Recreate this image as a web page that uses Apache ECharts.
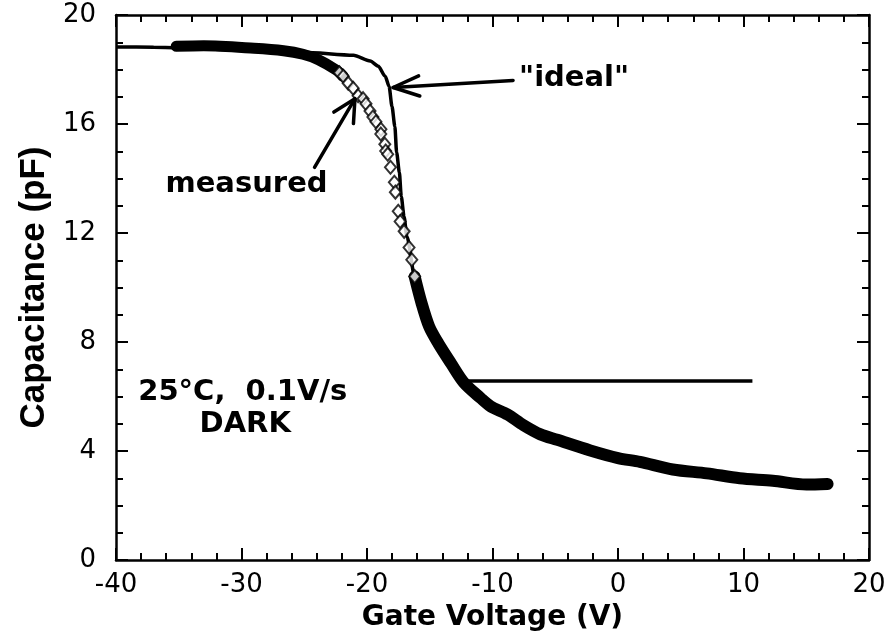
<!DOCTYPE html>
<html>
<head>
<meta charset="utf-8">
<script src="https://cdn.jsdelivr.net/npm/echarts@6/dist/echarts.min.js"></script>
<style>
  html, body { margin: 0; padding: 0; background: #fff; }
  #chart { width: 890px; height: 641px; }
</style>
</head>
<body>
<div id="chart"></div>
<script>
// Axis ranges and steps
const X_RANGE = [-40, 20];
const X_STEP = 10;
const Y_RANGE = [0, 20];
const Y_STEP = 4;

// Measured sweep: accumulation plateau (markers merge into a solid band)
const measPlateauV = [-35.2, -33.0, -29.0, -26.65, -25.1, -23.87, -22.45, -21.89];
const measPlateauC = [18.85, 18.87, 18.78, 18.69, 18.56, 18.36, 17.98, 17.75];

// Measured sweep: knee, where the individual open diamonds are visible
const measKneeV = [-22.2, -21.89, -21.5, -21.1, -20.71, -20.31, -20.08, -19.76, -19.53, -19.29, -18.89, -18.9,
                   -18.58, -18.51, -18.35, -18.13, -17.82, -17.74, -17.51, -17.36, -17.04, -16.65,
                   -16.43, -16.2];
const measKneeC = [17.88, 17.75, 17.5, 17.31, 17.04, 16.93, 16.74, 16.48, 16.26, 16.08, 15.81, 15.63,
                   15.26, 15.01, 14.89, 14.41, 13.86, 13.5, 12.8, 12.42, 12.06, 11.47,
                   11.02, 10.4];

// Measured sweep: depletion tail (dense band)
const measTailV = [-16.2, -15.66, -15.04, -14.33, -13.31, -12.28, -10.94, -10.15, -8.8, -7.54,
                   -6.18, -4.84, -2.21, 0.0, 1.75, 4.37, 7.08, 9.7, 12.33, 15.02, 16.7];
const measTailC = [10.4, 9.44, 8.56, 7.96, 7.22, 6.51, 5.94, 5.64, 5.34, 4.95,
                   4.61, 4.41, 4.02, 3.74, 3.6, 3.32, 3.18, 3.0, 2.91, 2.77, 2.79];

// "Ideal" curve, ending in the flat inversion capacitance
const idealV = [-40, -37.0, -25.06, -21.08, -19.74, -19.1, -18.55, -18.24, -18.01, -17.78,
                -17.64, -17.42, -17.27, -17.05, -16.82, -16.2, -15.66, -15.04, -14.33, -13.31,
                -12.12, 10.71];
const idealC = [18.83, 18.82, 18.63, 18.52, 18.31, 18.12, 17.75, 17.38, 16.65, 15.91,
                14.96, 14.22, 13.34, 12.61, 11.87, 10.4, 9.44, 8.56, 7.96, 7.22,
                6.57, 6.57];

// Text notes placed in data coordinates
const noteTexts = ['"ideal"', 'measured', '25°C,  0.1V/s', 'DARK'];
const noteV = [-3.5, -29.6, -29.9, -29.7];
const noteC = [17.66, 13.77, 6.15, 4.98];

// Pointer arrows (tail -> tip) in data coordinates
const arrowFromV = [-8.36, -24.18];
const arrowFromC = [17.6, 14.41];
const arrowToV = [-17.92, -20.96];
const arrowToC = [17.34, 16.93];

const zip = (xs, ys) => xs.map((x, i) => [x, ys[i]]);

const chart = echarts.init(document.getElementById('chart'), null, { renderer: 'canvas' });

const tickFont = { fontFamily: 'DejaVu Sans', fontSize: 26, color: '#000' };
const frameLine = { show: true, onZero: false, lineStyle: { color: '#000', width: 2.5 } };
const majorTick = { show: true, inside: true, length: 12, lineStyle: { color: '#000', width: 2 } };
const minorTickX = { show: true, splitNumber: 5, length: 7, lineStyle: { color: '#000', width: 2 } };
const minorTickY = { show: true, splitNumber: 4, length: 7, lineStyle: { color: '#000', width: 2 } };

chart.setOption({
  backgroundColor: '#fff',
  animation: false,
  grid: { left: 116, right: 21, top: 15, bottom: 81, outerBoundsMode: 'none' },
  xAxis: [
    {
      type: 'value', position: 'bottom',
      min: X_RANGE[0], max: X_RANGE[1], interval: X_STEP,
      name: 'Gate Voltage (V)', nameLocation: 'middle', nameGap: 44,
      nameTextStyle: { fontFamily: 'DejaVu Sans', fontWeight: 'bold', fontSize: 28, color: '#000' },
      axisLine: frameLine, axisTick: majorTick, minorTick: minorTickX,
      axisLabel: Object.assign({ margin: 12 }, tickFont),
      splitLine: { show: false }
    },
    {
      type: 'value', position: 'top',
      min: X_RANGE[0], max: X_RANGE[1], interval: X_STEP,
      axisLine: frameLine, axisTick: majorTick, minorTick: minorTickX,
      axisLabel: { show: false }, splitLine: { show: false }
    }
  ],
  yAxis: [
    {
      type: 'value', position: 'left',
      min: Y_RANGE[0], max: Y_RANGE[1], interval: Y_STEP,
      name: 'Capacitance (pF)', nameLocation: 'middle', nameGap: 64,
      nameTextStyle: { fontFamily: 'Liberation Sans', fontWeight: 'bold', fontSize: 35, color: '#000' },
      axisLine: frameLine, axisTick: majorTick, minorTick: minorTickY,
      axisLabel: Object.assign({ margin: 20 }, tickFont),
      splitLine: { show: false }
    },
    {
      type: 'value', position: 'right',
      min: Y_RANGE[0], max: Y_RANGE[1], interval: Y_STEP,
      axisLine: frameLine, axisTick: majorTick, minorTick: minorTickY,
      axisLabel: { show: false }, splitLine: { show: false }
    }
  ],
  series: [
    {
      name: 'ideal', type: 'line', z: 2,
      data: zip(idealV, idealC),
      showSymbol: false, smooth: 0.25, smoothMonotone: 'x',
      lineStyle: { color: '#000', width: 3.5 }
    },
    {
      name: 'measured plateau', type: 'line', z: 3,
      data: zip(measPlateauV, measPlateauC),
      showSymbol: false, smooth: 0.3,
      lineStyle: { color: '#000', width: 11, cap: 'round', join: 'round' }
    },
    {
      name: 'measured knee', type: 'scatter', z: 4,
      data: zip(measKneeV, measKneeC),
      symbol: 'emptyDiamond', symbolSize: [11, 13],
      itemStyle: { color: '#000', borderColor: '#000', borderWidth: 2.5 }
    },
    {
      name: 'measured tail', type: 'line', z: 3,
      data: zip(measTailV, measTailC),
      showSymbol: false, smooth: 0.3,
      lineStyle: { color: '#000', width: 12, cap: 'round', join: 'round' }
    }
  ]
});

// Notes and arrows are laid out through the grid's own coordinate transform
const toPx = (v, c) => chart.convertToPixel({ gridIndex: 0 }, [v, c]);

function arrowShapes(from, to, headLen, headDeg) {
  const a = toPx(from[0], from[1]);
  const b = toPx(to[0], to[1]);
  const ang = Math.atan2(a[1] - b[1], a[0] - b[0]);
  const h = headDeg * Math.PI / 180;
  const p1 = [b[0] + headLen * Math.cos(ang + h), b[1] + headLen * Math.sin(ang + h)];
  const p2 = [b[0] + headLen * Math.cos(ang - h), b[1] + headLen * Math.sin(ang - h)];
  const stroke = { stroke: '#000', lineWidth: 3.5, fill: null, lineCap: 'round', lineJoin: 'round' };
  return [
    { type: 'polyline', shape: { points: [a, b] }, style: stroke, z: 10 },
    { type: 'polyline', shape: { points: [p1, b, p2] }, style: stroke, z: 10 }
  ];
}

const graphics = [];
noteTexts.forEach((t, i) => {
  const p = toPx(noteV[i], noteC[i]);
  graphics.push({
    type: 'text', x: p[0], y: p[1], z: 10,
    style: {
      text: t, fill: '#000',
      fontFamily: 'DejaVu Sans', fontWeight: 'bold', fontSize: 29,
      align: 'center', verticalAlign: 'middle'
    }
  });
});
graphics.push(...arrowShapes([arrowFromV[0], arrowFromC[0]], [arrowToV[0], arrowToC[0]], 28, 21));
graphics.push(...arrowShapes([arrowFromV[1], arrowFromC[1]], [arrowToV[1], arrowToC[1]], 25, 27));

chart.setOption({ graphic: graphics });
</script>
</body>
</html>
